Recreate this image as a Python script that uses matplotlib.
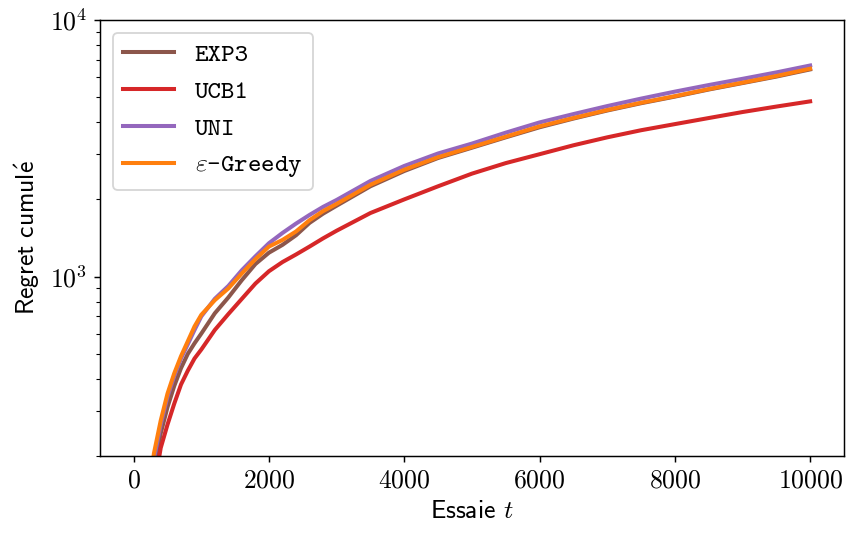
import numpy as np
import matplotlib
matplotlib.use("Agg")
import matplotlib.pyplot as plt

# Cumulative regret of each bandit strategy, read at selected trials
t = [250, 300, 400, 500, 600, 700, 800, 900, 1000, 1200, 1400, 1600, 1800,
     2000, 2200, 2400, 2600, 2800, 3000, 3500, 4000, 4500, 5000, 5500,
     6000, 6500, 7000, 7500, 8000, 8500, 9000, 9500, 10000]

regret_exp3 = [140, 175, 245, 310, 375, 440, 500, 550, 600, 720, 830, 970, 1120,
               1240, 1330, 1450, 1620, 1760, 1890, 2250, 2580, 2900, 3180, 3490,
               3820, 4130, 4440, 4740, 5030, 5360, 5680, 6020, 6420]
regret_ucb1 = [120, 150, 215, 265, 320, 380, 430, 480, 520, 620, 715, 820, 940,
               1050, 1140, 1220, 1310, 1410, 1510, 1770, 2000, 2250, 2520, 2770,
               3000, 3250, 3490, 3720, 3930, 4150, 4380, 4600, 4820]
regret_uni = [160, 195, 265, 340, 410, 480, 545, 620, 700, 820, 920, 1060, 1200,
              1350, 1480, 1610, 1740, 1870, 1990, 2360, 2700, 3020, 3300, 3640,
              3990, 4300, 4620, 4940, 5260, 5580, 5900, 6250, 6650]
regret_egreedy = [165, 205, 275, 350, 420, 490, 560, 640, 710, 810, 900, 1030, 1170,
                  1310, 1390, 1500, 1660, 1800, 1920, 2280, 2610, 2920, 3200, 3510,
                  3850, 4150, 4460, 4760, 5050, 5380, 5700, 6050, 6460]

labels = ["EXP3", "UCB1", "UNI", r"$\varepsilon$-Greedy"]
colors = ["tab:brown", "tab:red", "tab:purple", "tab:orange"]

plt.rcParams.update({
    "font.size": 14,
    "font.family": "cmr10",
    "mathtext.fontset": "cm",
    "axes.unicode_minus": False,
    "axes.formatter.use_mathtext": True,
})

fig, ax = plt.subplots(figsize=(846 / 132, 534 / 132), dpi=132)
fig.subplots_adjust(left=0.118, right=0.9976, top=0.9625, bottom=0.146)

for y, lab, c in zip([regret_exp3, regret_ucb1, regret_uni, regret_egreedy], labels, colors):
    ax.plot(t, y, color=c, lw=2.2, label=lab)

ax.set_yscale("log")
ax.set_xlim(-500, 10500)
ax.set_ylim(200, 1e4)
ax.set_xticks([0, 2000, 4000, 6000, 8000, 10000])

ax.set_xlabel("Essaie $t$", family="cmss10")
ax.set_ylabel(r"$\mathsf{Regret\ cumul\acute{e}}$")

ax.legend(loc="upper left", prop={"family": "cmtt10", "size": 14})

fig.savefig("out.png", dpi=132)
